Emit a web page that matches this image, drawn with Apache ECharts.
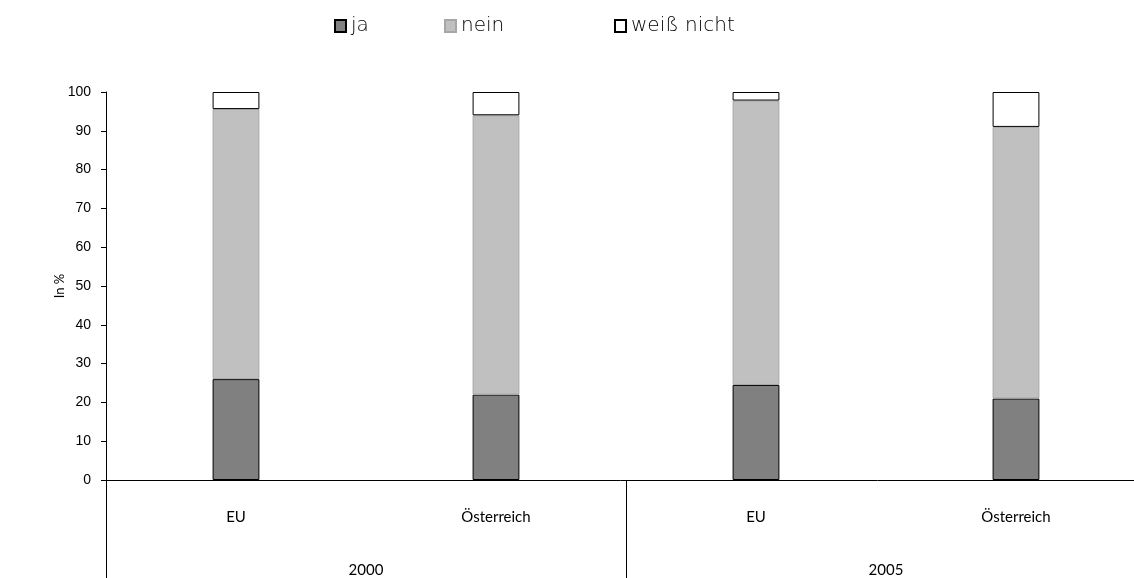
<!DOCTYPE html>
<html>
<head>
<meta charset="utf-8">
<script src="https://cdn.jsdelivr.net/npm/echarts@6/dist/echarts.min.js"></script>
<style>
  html, body { margin: 0; padding: 0; background: #fff; }
  #chart { width: 1134px; height: 578px; }
</style>
</head>
<body>
<div id="chart"></div>
<script>
// Kategorien und Werte (in %)
var regions = ['EU', 'Österreich', 'EU', 'Österreich'];
var years = ['2000', '2005'];
var ja = [26, 22, 24.5, 21];
var nein = [69.6, 72, 73.3, 70];
var weissNicht = [4.4, 6, 2.2, 9];
var yTicks = [0, 100, 10]; // min, max, interval

var labelFont = 'Lato, "Noto Sans", sans-serif';
var legendFont = '"DejaVu Sans", sans-serif';

var myChart = echarts.init(document.getElementById('chart'));

function legendItem(name, left) {
  return {
    top: 16,
    left: left,
    padding: 0,
    icon: 'rect',
    itemWidth: 11,
    itemHeight: 12,
    textStyle: { color: '#000', fontSize: 20, fontFamily: legendFont, fontWeight: 'lighter' },
    data: [name]
  };
}

var option = {
  animation: false,
  backgroundColor: '#fff',
  legend: [
    legendItem('ja', 334),
    legendItem('nein', 444),
    legendItem('weiß nicht', 614)
  ],
  grid: {
    left: 106,
    top: 92,
    width: 1040,
    height: 388,
    outerBoundsMode: 'none'
  },
  xAxis: [{
    type: 'category',
    position: 'bottom',
    data: regions,
    axisLine: { lineStyle: { color: '#000', width: 1 } },
    axisTick: { show: false },
    axisLabel: {
      color: '#000',
      fontSize: 15,
      fontFamily: labelFont,
      margin: 30,
      interval: 0
    }
  }, {
    type: 'category',
    position: 'bottom',
    data: years,
    axisLine: { show: false },
    axisTick: {
      show: true,
      length: 100,
      lineStyle: { color: '#000', width: 1 }
    },
    axisLabel: {
      color: '#000',
      fontSize: 15,
      fontFamily: labelFont,
      margin: 83
    }
  }],
  yAxis: {
    type: 'value',
    min: yTicks[0],
    max: yTicks[1],
    interval: yTicks[2],
    name: 'In %',
    nameLocation: 'middle',
    nameGap: 40,
    nameMoveOverlap: false,
    nameTextStyle: { color: '#000', fontSize: 13, fontFamily: labelFont },
    splitLine: { show: false },
    axisLine: { show: true, lineStyle: { color: '#000', width: 1 } },
    axisTick: { show: true, length: 5, lineStyle: { color: '#000' } },
    axisLabel: {
      color: '#000',
      fontSize: 14,
      fontFamily: '"Liberation Sans", Arial, sans-serif',
      margin: 15
    }
  },
  series: [{
    name: 'ja',
    type: 'bar',
    stack: 'total',
    barWidth: '18%',
    data: ja,
    itemStyle: { color: '#808080', borderColor: '#000', borderWidth: 1 }
  }, {
    name: 'nein',
    type: 'bar',
    stack: 'total',
    data: nein,
    itemStyle: { color: '#c0c0c0', borderColor: '#a6a6a6', borderWidth: 1 }
  }, {
    name: 'weiß nicht',
    type: 'bar',
    stack: 'total',
    data: weissNicht,
    itemStyle: { color: '#ffffff', borderColor: '#000', borderWidth: 1 }
  }]
};

myChart.setOption(option);
</script>
</body>
</html>
